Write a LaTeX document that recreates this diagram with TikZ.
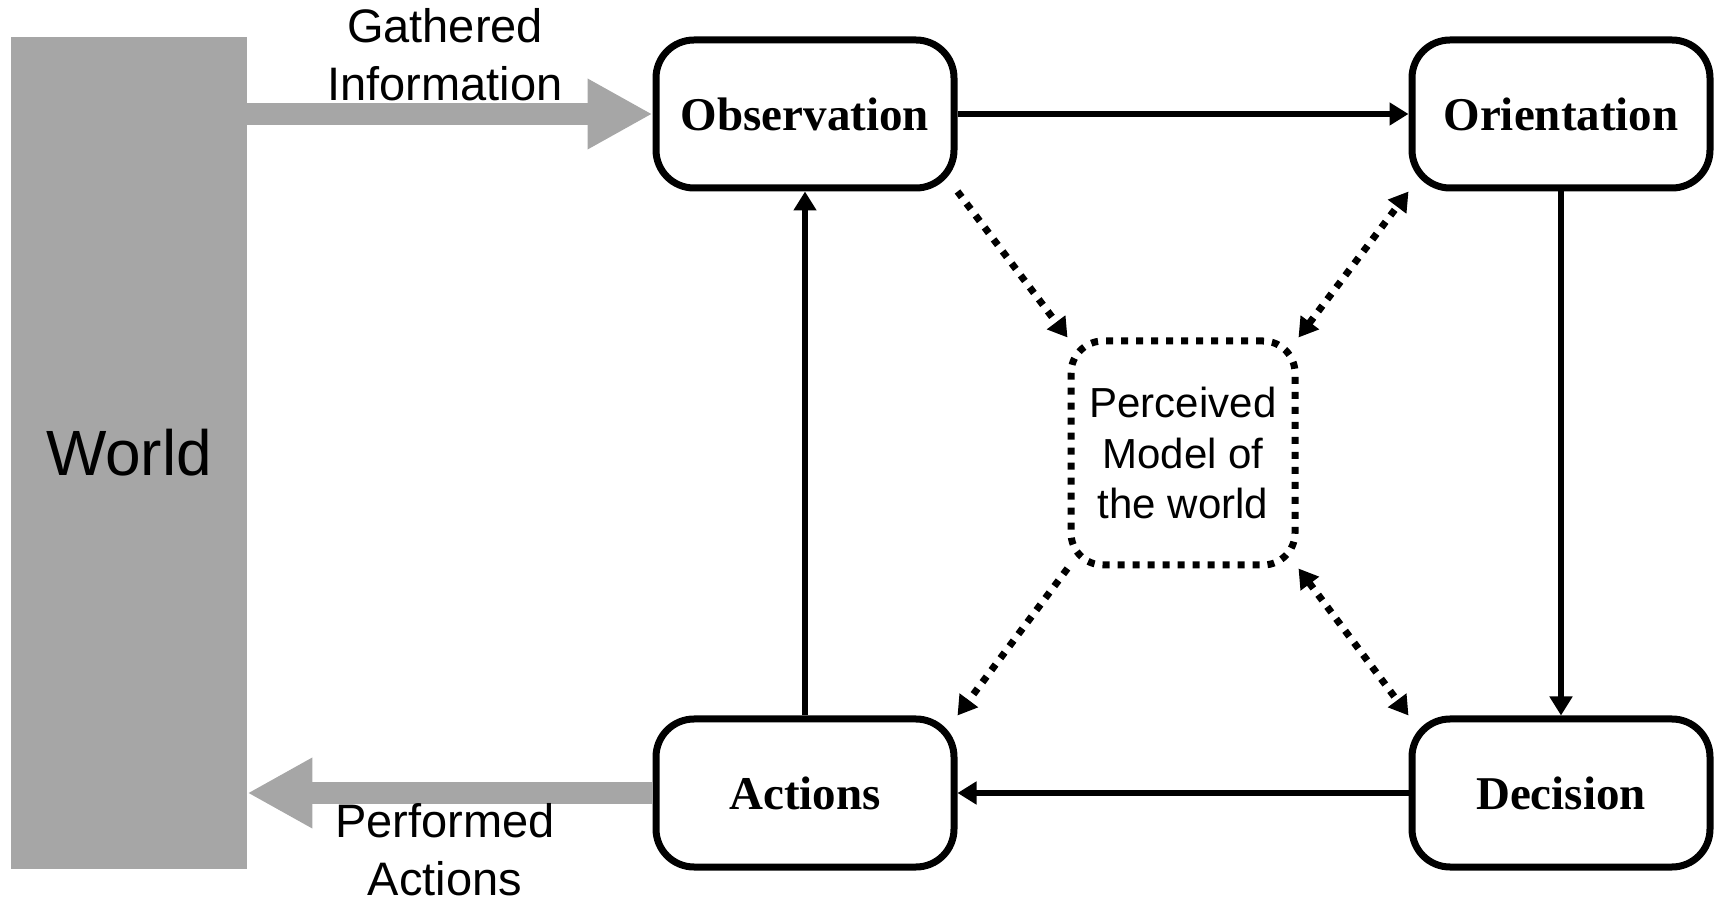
\documentclass[tikz,border=0pt]{standalone}
\usepackage{fontspec}
\setmainfont{Liberation Serif}
\setsansfont{Liberation Sans}
\usetikzlibrary{arrows.meta}
\definecolor{worldgray}{RGB}{166,166,166}

\begin{document}
\begin{tikzpicture}[x=0.5pt, y=-0.5pt,
  >={Triangle[length=9.5pt,width=11pt]},
  stage/.style={draw, line width=3.5pt, rounded corners=19pt,
    minimum width=149pt, minimum height=74pt, inner sep=0pt,
    font=\bfseries\fontsize{23.5}{28}\selectfont},
  loopline/.style={line width=3.2pt, ->},
  modelline/.style={line width=3.5pt, dash pattern=on 3.5pt off 4pt},
  flow/.style={draw=worldgray, line width=11pt,
    -{Triangle[length=32.5pt,width=33pt]}},
  flowtext/.style={font=\sffamily\fontsize{23.5}{29}\selectfont, align=center}
]
\useasboundingbox (0,0) rectangle (1721,903);

% the world
\node[fill=worldgray, minimum width=118pt, minimum height=416pt, inner sep=0pt,
  font=\sffamily\fontsize{32}{38}\selectfont] (world) at (129,453) {World};

% OODA stages
\node[stage] (obs) at (805,114) {Observation};
\node[stage] (ori) at (1561,114) {Orientation};
\node[stage] (dec) at (1561,793) {Decision};
\node[stage] (act) at (805,793) {Actions};

\node[draw, modelline, rounded corners=16pt, minimum size=112pt, inner sep=0pt,
  align=center, font=\sffamily\fontsize{21}{25.3}\selectfont]
  (model) at (1183,453) {Perceived\\Model of\\the world};

% main loop
\draw[loopline] (obs.east) -- (ori.west);
\draw[loopline] (ori.south) -- (dec.north);
\draw[loopline] (dec.west) -- (act.east);
\draw[loopline] (act.north) -- (obs.south);

% links to the model
\draw[modelline, ->] (obs.south east) -- (model.north west);
\draw[modelline, <->] (model.north east) -- (ori.south west);
\draw[modelline, ->] (model.south west) -- (act.north east);
\draw[modelline, <->] (model.south east) -- (dec.north west);

% exchange with the world
\draw[flow] (world.east |- obs.west) -- (obs.west);
\draw[flow] (act.west) -- (world.east |- act.west);
\node[flowtext] (gathered) at (445,55) {Gathered\\Information};
\node[flowtext] (performed) at (445,850) {Performed\\Actions};

\end{tikzpicture}
\end{document}
